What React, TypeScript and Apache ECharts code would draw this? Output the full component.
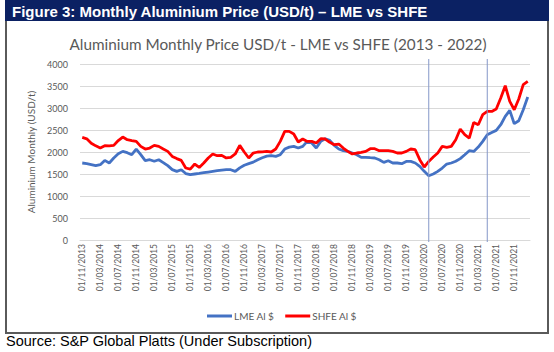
import React, { useEffect, useRef } from "react";
import * as echarts from "echarts";

// Monthly categories: 01/11/2013 .. 01/02/2022
const START_YEAR = 2013;
const START_MONTH = 11;
const MONTH_COUNT = 100;
const categories: string[] = [];
for (let k = 0; k < MONTH_COUNT; k++) {
  const m = ((START_MONTH - 1 + k) % 12) + 1;
  const y = START_YEAR + Math.floor((START_MONTH - 1 + k) / 12);
  categories.push(`01/${m < 10 ? "0" + m : m}/${y}`);
}

const lme: number[] = [
  1750, 1738, 1715, 1690, 1711, 1809, 1750, 1864, 1960, 2014,
  1985, 1939, 2068, 1939, 1802, 1825, 1790, 1825, 1760, 1690,
  1600, 1559, 1598, 1510, 1484, 1500, 1514, 1530, 1545, 1560,
  1575, 1590, 1598, 1598, 1559, 1640, 1700, 1735, 1770, 1825,
  1870, 1905, 1916, 1900, 1939, 2068, 2110, 2128, 2090, 2128,
  2241, 2204, 2090, 2241, 2302, 2264, 2150, 2068, 2030, 2014,
  1977, 1939, 1877, 1877, 1870, 1864, 1825, 1764, 1800, 1750,
  1750, 1734, 1786, 1786, 1750, 1673, 1560, 1461, 1500, 1559,
  1636, 1727, 1750, 1790, 1850, 1939, 2030, 2014, 2113, 2241,
  2393, 2445, 2491, 2620, 2809, 2945, 2643, 2711, 2961, 3250,
];

const shfe: number[] = [
  2332, 2300, 2200, 2140, 2090, 2143, 2140, 2150, 2260, 2340,
  2280, 2260, 2241, 2128, 2068, 2090, 2150, 2128, 2070, 2014,
  1900, 1850, 1809, 1636, 1610, 1727, 1650, 1750, 1864, 1955,
  1916, 1924, 1864, 1879, 1955, 2150, 2000, 1864, 1977, 2000,
  2005, 2014, 2000, 2068, 2241, 2468, 2468, 2409, 2227, 2295,
  2241, 2241, 2204, 2302, 2295, 2219, 2166, 2181, 2090, 2014,
  1955, 1977, 1990, 2014, 2075, 2075, 2030, 2030, 2030, 2014,
  1977, 1977, 2014, 2068, 2052, 1825, 1659, 1786, 1886, 1977,
  2128, 2105, 2128, 2280, 2522, 2393, 2318, 2673, 2620, 2848,
  2923, 2923, 2977, 3227, 3507, 3150, 2961, 3204, 3530, 3604,
];

const markerMonths: string[] = ["01/04/2020", "01/05/2021"];
const yTicks = { min: 0, max: 4000, interval: 500 };

const HEADER = "Figure 3: Monthly Aluminium Price (USD/t) – LME vs SHFE";
const TITLE = "Aluminium Monthly Price USD/t - LME vs SHFE (2013 - 2022)";
const Y_NAME = "Aluminium Monthly (USD/t)";
const SOURCE = "Source: S&P Global Platts (Under Subscription)";

const FONT = "Lato, 'Open Sans', sans-serif";
const GREY = "#595959";

export default function App() {
  const ref = useRef<HTMLDivElement>(null);
  useEffect(() => {
    if (!ref.current) return;
    const chart = echarts.init(ref.current, undefined, { renderer: "svg" });
    const staticGraphics: any[] = [
      {
        type: "rect",
        shape: { x: 6, y: 20, width: 542, height: 313 },
        style: { fill: "none", stroke: "#5a5a5a", lineWidth: 2 },
        z: 10,
      },
      {
        type: "rect",
        shape: { x: 5, y: 0, width: 544, height: 21 },
        style: { fill: "#0b2163" },
        z: 11,
      },
      {
        type: "text",
        x: 12,
        y: 11,
        style: {
          text: HEADER,
          fill: "#ffffff",
          font: "bold 15px 'Liberation Sans', Arial, sans-serif",
          verticalAlign: "middle",
        },
        z: 12,
      },
      {
        type: "text",
        x: 278,
        y: 44,
        style: {
          text: TITLE,
          fill: GREY,
          font: `15.3px ${FONT}`,
          textAlign: "center",
          verticalAlign: "middle",
        },
      },
      {
        type: "text",
        x: 6,
        y: 341,
        style: {
          text: SOURCE,
          fill: "#000000",
          font: "14.5px 'Liberation Sans', Arial, sans-serif",
          verticalAlign: "middle",
        },
      },
    ];
    chart.setOption({
      animation: false,
      backgroundColor: "#ffffff",
      grid: { left: 80, right: 24, top: 64, bottom: 112, containLabel: false },
      legend: {
        left: 207,
        top: 311,
        padding: 0,
        itemWidth: 25,
        itemHeight: 3,
        itemGap: 11,
        icon: "rect",
        textStyle: { fontFamily: FONT, fontSize: 10, color: GREY, padding: [0, 0, 0, -3] },
        data: ["LME Al $", "SHFE Al $"],
      },
      xAxis: {
        type: "category",
        data: categories,
        boundaryGap: true,
        axisLine: { lineStyle: { color: "#d9d9d9" } },
        axisTick: { interval: 3, length: 4, lineStyle: { color: "#d9d9d9" } },
        axisLabel: {
          interval: 3,
          rotate: 90,
          fontFamily: FONT,
          fontSize: 8.5,
          color: GREY,
          margin: 4,
        },
      },
      yAxis: {
        type: "value",
        min: yTicks.min,
        max: yTicks.max,
        interval: yTicks.interval,
        name: Y_NAME,
        nameLocation: "middle",
        nameGap: 44,
        nameRotate: 90,
        nameTextStyle: { fontFamily: FONT, fontSize: 10, color: GREY },
        axisLine: { show: false },
        axisTick: { show: false },
        axisLabel: {
          fontFamily: FONT,
          fontSize: 9,
          color: GREY,
          margin: 12,
          formatter: (v: number) => String(v),
        },
        splitLine: { lineStyle: { color: "#d9d9d9", width: 1 } },
      },
      series: [
        {
          name: "LME Al $",
          type: "line",
          data: lme,
          symbol: "none",
          color: "#4472c4",
          lineStyle: { width: 2.8, color: "#4472c4" },
        },
        {
          name: "SHFE Al $",
          type: "line",
          data: shfe,
          symbol: "none",
          color: "#ff0000",
          lineStyle: { width: 2.8, color: "#ff0000" },
        },
      ],
      graphic: staticGraphics,
    });
    // vertical marker lines placed through the category axis scale
    const markerLines = markerMonths.map((m) => {
      const px = chart.convertToPixel({ xAxisIndex: 0 }, m) as number;
      return {
        type: "line",
        shape: { x1: px, y1: 59, x2: px, y2: 242 },
        style: { stroke: "#8497c8", lineWidth: 1 },
        z: 5,
      };
    });
    chart.setOption({ graphic: [...staticGraphics, ...markerLines] });
    return () => chart.dispose();
  }, []);
  return (
    <div
      ref={ref}
      style={{ position: "absolute", left: 0, top: 0, width: 554, height: 352 }}
    />
  );
}
